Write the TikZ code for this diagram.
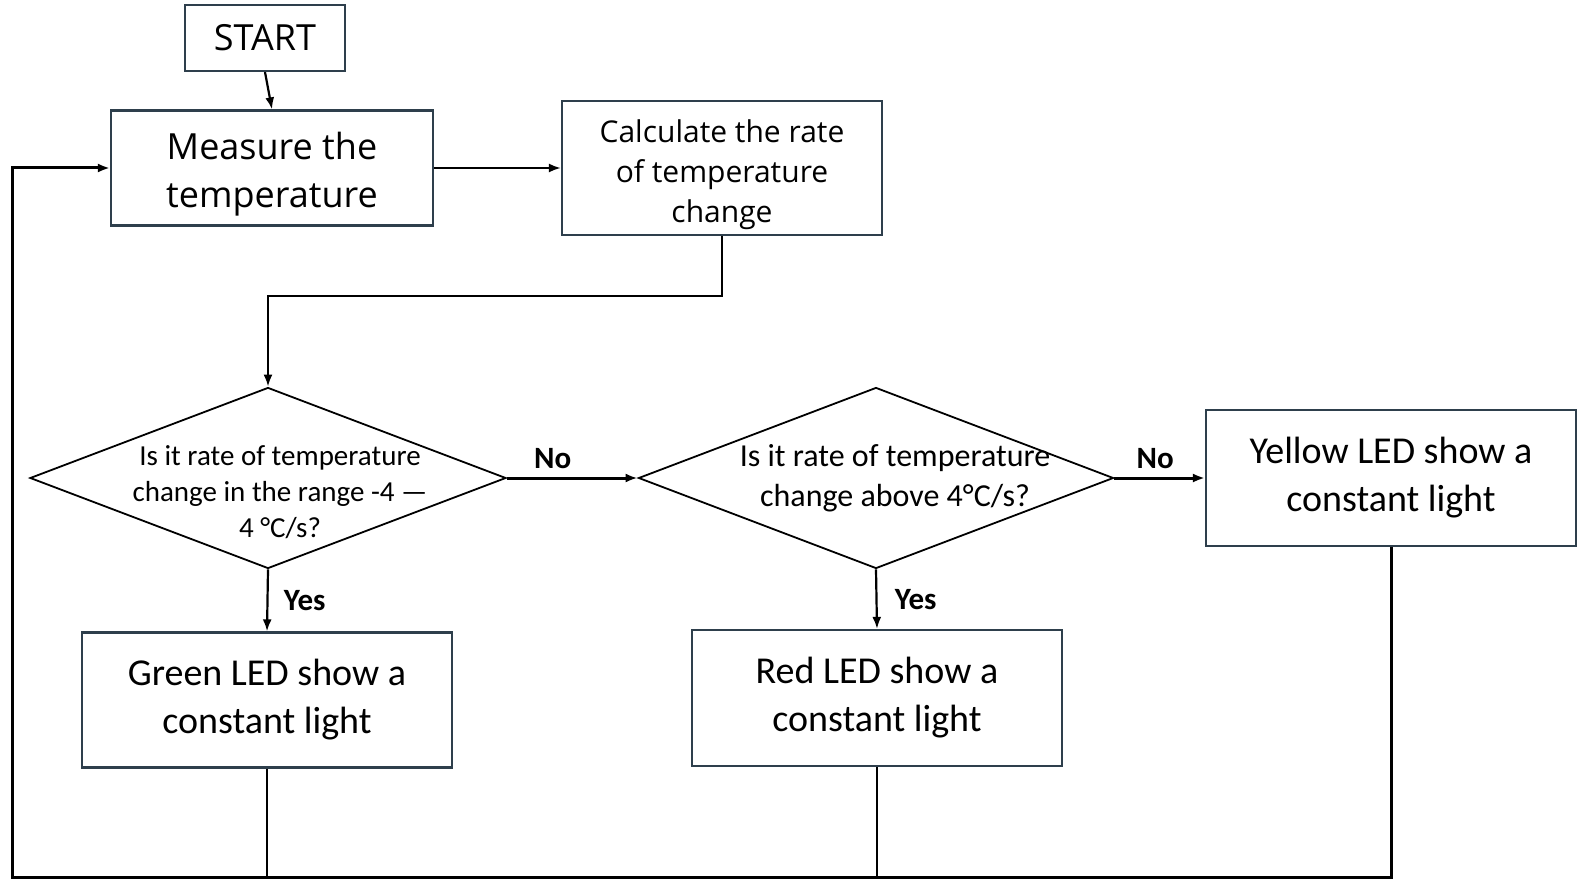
\documentclass[tikz,border=0pt]{standalone}
\usepackage{fontspec}
\setmainfont{Carlito}
\newfontfamily\topfont{Open Sans}
\usepackage{tikz}
\usetikzlibrary{shapes.geometric, arrows.meta, calc}

\definecolor{edgegray}{HTML}{2E3F4C}

\begin{document}
\begin{tikzpicture}[x = 1pt, y = -1pt,
		box/.style = {draw = edgegray, line width = 2.2pt, align = center, inner sep = 0pt},
		decision/.style = {draw = black, line width = 1.8pt, diamond, inner sep = 0pt},
		arr/.style = {-{Latex[length = 12pt, width = 9pt]}, line width = 2.2pt},
		lbl/.style = {font = \fontsize{31}{36}\selectfont\bfseries}]
	\useasboundingbox (0,0) rectangle (1584,885);

	\def\topsize{\fontsize{36}{48}\selectfont\topfont};
	\def\ledsize{\fontsize{38}{48}\selectfont};

	% top row
	\node [box, minimum width = 160pt, minimum height = 66pt, font = \topsize] (start) at (265,38) {START};
	\node [box, minimum width = 322pt, minimum height = 115pt, font = \topsize] (measure) at (272,168) {\rule{0pt}{40pt}Measure the\\temperature};
	\node [box, minimum width = 320pt, minimum height = 134pt, font = \fontsize{30}{40}\selectfont\topfont] (calc) at (722,168) {\rule{0pt}{36pt}Calculate the rate\\of temperature\\change};

	% decisions
	\node [decision, minimum width = 476pt, minimum height = 181pt] (q1) at (268,478) {};
	\node [align = center, font = \fontsize{29}{36}\selectfont] (q1text) at (280,492) {Is it rate of temperature\\change in the range -4 ---\\4 \textdegree C/s?};
	\node [decision, minimum width = 475pt, minimum height = 181pt] (q2) at (876,478) {};
	\node [align = center, font = \fontsize{32}{40}\selectfont] (q2text) at (895,478) {Is it rate of temperature\\change above 4\textdegree C/s?};

	% LED boxes
	\node [box, minimum width = 370pt, minimum height = 136pt, font = \ledsize] (yellow) at (1391,478) {Yellow LED show a\\constant light};
	\node [box, minimum width = 370pt, minimum height = 135pt, font = \ledsize] (green) at (267,700) {Green LED show a\\constant light};
	\node [box, minimum width = 370pt, minimum height = 136pt, font = \ledsize] (red) at (877,698) {Red LED show a\\constant light};

	\coordinate (elbow) at (268,296);
	\coordinate (loop) at (12,877);

	\begin{scope}[arr]
		\draw (start.south) -- (measure.north);
		\draw (measure.east) -- (calc.west);
		\draw (calc.south) |- (elbow) -- (q1.north);
		\draw [line width = 3pt] (q1.east) -- node [lbl, above, pos = 0.35, yshift = 4pt] {No} (q2.west);
		\draw [line width = 3pt] (q2.east) -- node [lbl, above, pos = 0.45, yshift = 4pt] {No} (yellow.west);
		\draw (q1.south) -- node [lbl, right, xshift = 12pt] {Yes} (green.north);
		\draw (q2.south) -- node [lbl, right, xshift = 14pt] {Yes} (red.north);
		\draw [line width = 3pt] (yellow.south) |- (loop) -- (loop |- measure.west) -- (measure.west);
	\end{scope}

	\draw [line width = 1.8pt] (green.south) -- (green.south |- loop);
	\draw [line width = 1.8pt] (red.south) -- (red.south |- loop);
\end{tikzpicture}
\end{document}
